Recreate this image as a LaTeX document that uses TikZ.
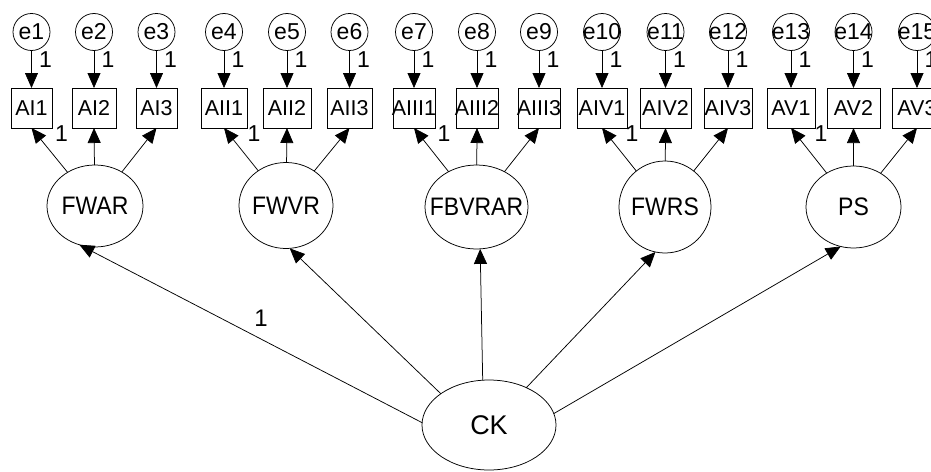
\documentclass[tikz,border=0pt]{standalone}
\usepackage{fontspec}
\setmainfont{Liberation Sans}
\usetikzlibrary{shapes.geometric,arrows.meta}
\newcommand{\mkzw}[1]{\makebox[0pt]{#1}}
\begin{document}
\begin{tikzpicture}[x=1pt,y=-1pt,
  every node/.style={inner sep=0pt, outer sep=0pt},
  err/.style={draw, circle, line width=0.75pt, minimum size=37pt, font=\fontsize{23}{23}\selectfont},
  obs/.style={draw, rectangle, line width=0.75pt, minimum height=40pt, font=\fontsize{21.5}{21.5}\selectfont},
  lat/.style={draw, ellipse, line width=0.75pt, font=\fontsize{23}{23}\selectfont},
  lab/.style={font=\fontsize{23}{23}\selectfont},
  arr/.style={-{Triangle[length=15pt,width=13pt]}, line width=0.75pt},
]
\useasboundingbox (0,0) rectangle (931,471);
\clip (0,0) rectangle (931,471);
\fill[white] (0,0) rectangle (931,471);

\foreach \n/\x/\w [count=\i] in {AI1/31.5/41, AI2/94/44, AI3/156.5/41, AII1/224/46, AII2/287/48, AII3/349.5/45, AIII1/414/42, AIII2/477/42, AIII3/539/42, AIV1/602/50, AIV2/665.5/51, AIV3/728/48, AV1/791/48, AV2/853.5/53, AV3/917/50} {
  \node[obs, minimum width=\w pt] (\n) at (\x,108) {\mkzw{\n}};
  \node[err] (e\i) at (\x,32) {\mkzw{e\i}};
  \draw[arr] (e\i) -- (\n);
  \node[lab] at (\x+14,59.5) {\mkzw{1}};
}

\node[lat, minimum width=96pt, minimum height=82pt] (FWAR) at (95,206) {\mkzw{\scalebox{1}[1.1]{FWAR}}};
\node[lat, minimum width=94pt, minimum height=86pt] (FWVR) at (286,205.5) {\mkzw{\scalebox{1}[1.1]{FWVR}}};
\node[lat, minimum width=103pt, minimum height=84pt] (FBVRAR) at (476.5,207) {\mkzw{\scalebox{1}[1.1]{FBVRAR}}};
\node[lat, minimum width=92pt, minimum height=92pt] (FWRS) at (665,207) {\mkzw{\scalebox{1}[1.1]{FWRS}}};
\node[lat, minimum width=95pt, minimum height=82pt] (PS) at (853.5,207) {\mkzw{\scalebox{1}[1.1]{PS}}};
\node[lat, minimum width=134pt, minimum height=90pt, font=\fontsize{27}{27}\selectfont] (CK) at (489,425) {\mkzw{CK}};

\foreach \l/\a/\b/\c in {FWAR/AI1/AI2/AI3, FWVR/AII1/AII2/AII3, FBVRAR/AIII1/AIII2/AIII3, FWRS/AIV1/AIV2/AIV3, PS/AV1/AV2/AV3} {
  \draw[arr] (\l) -- (\a.south);
  \draw[arr] (\l) -- (\b.south);
  \draw[arr] (\l) -- (\c.south);
  \node[lab] at ([shift={(30,6)}]\a.south) {\mkzw{1}};
}

\draw[arr] (CK.178) -- (FWAR.248);
\draw[arr] (CK.147) -- (FWVR.275);
\draw[arr] (CK.98) -- (FBVRAR.275);
\draw[arr] (CK.45) -- (FWRS.258);
\draw[arr] (CK.10) -- (PS.252);
\node[lab, font=\fontsize{24}{24}\selectfont] (l1) at (261,318) {\mkzw{1}};
\end{tikzpicture}
\end{document}
